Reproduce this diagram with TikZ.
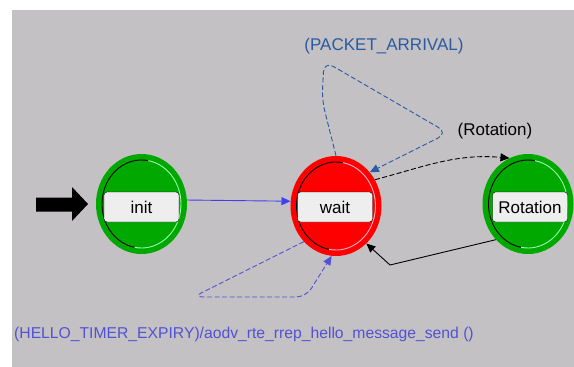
\documentclass[tikz,border=0pt]{standalone}
\usepackage{fontspec}
\usetikzlibrary{shapes.geometric,arrows.meta}
\newfontfamily\uifont{Liberation Sans}
\definecolor{bggray}{RGB}{195,193,196}
\definecolor{stgreen}{RGB}{0,168,0}
\definecolor{stred}{RGB}{255,0,0}
\definecolor{ltgreen}{RGB}{150,255,170}
\definecolor{ltred}{RGB}{255,175,200}
\definecolor{trblue}{RGB}{64,64,240}
\definecolor{pktblue}{RGB}{42,90,160}
\definecolor{hlblue}{RGB}{82,82,210}
\definecolor{boxfill}{RGB}{238,238,238}
\tikzset{
  statenode/.style={ellipse, minimum width=91pt, minimum height=100pt, inner sep=0pt},
  lblbox/.style={draw=black, fill=boxfill, rounded corners=3pt, minimum width=75pt, minimum height=30pt, inner sep=0pt, font=\uifont\fontsize{17}{20}\selectfont},
  labeltxt/.style={inner sep=0pt, font=\uifont\fontsize{17}{20}\selectfont},
  tip/.style={-{Triangle[length=9pt,width=8pt]}},
  dashline/.style={dash pattern=on 5pt off 2.5pt, line width=0.9pt},
}
\newcommand\stateRing[2]{%
  \draw[black, line width=0.9pt] (#1.center) ++(100:39.5 and 44) arc[start angle=100, end angle=280, x radius=39.5, y radius=44];
  \draw[#2, line width=0.9pt] (#1.center) ++(280:39.5 and 44) arc[start angle=280, end angle=460, x radius=39.5, y radius=44];
}
\begin{document}
\begin{tikzpicture}[x=1pt,y=-1pt]
\useasboundingbox (0,0) rectangle (574,367);
\fill[white] (0,0) rectangle (574,367);
\fill[bggray] (12,10) rectangle (574,367);

% states
\node[statenode, fill=stgreen] (init) at (141.5,204) {};
\node[statenode, fill=stred] (wait) at (336,206) {};
\node[statenode, fill=stgreen] (rot) at (528,204) {};
\stateRing{init}{ltgreen}
\stateRing{wait}{ltred}
\stateRing{rot}{ltgreen}

% entry arrow
\fill[black] (36,197.5) -- (72,197.5) -- (72,187) -- (88,204) -- (72,221) -- (72,211.5) -- (36,211.5) -- cycle;

% init -> wait
\draw[trblue, line width=0.9pt, tip] (init.5) -- (wait.174);

% wait -> Rotation
\draw[black, dashline, tip] (wait.34) to[out=15, in=175] (rot.112);

% Rotation -> wait
\coordinate (bendA) at (390,265);
\draw[black, line width=0.9pt, tip] (rot.228) -- (bendA) -- (wait.309);

% PACKET_ARRIVAL loop
\coordinate (pkM) at (322,100);
\coordinate (pkA) at (324,61);
\coordinate (pkB) at (448,133);
\draw[pktblue, dashline, tip, rounded corners=11pt] (wait.90) -- (pkM) -- (pkA) -- (pkB) -- (wait.45);

% HELLO loop
\coordinate (hlA) at (193,297);
\coordinate (hlB) at (306,297);
\draw[hlblue, dashline, tip, rounded corners=10pt] (wait.228) -- (hlA) -- (hlB) -- (wait.265);

% label boxes
\node[lblbox] (initlbl) at (141.5,207) {init};
\node[lblbox] (waitlbl) at (335,207) {wait};
\node[lblbox] (rotlbl) at (530,207) {Rotation};

% transition labels
\node[labeltxt, text=pktblue] (pktlbl) at (384,46) {(PACKET\_ARRIVAL)};
\node[labeltxt, text=black] (rotlabel) at (495,131) {(Rotation)};
\node[labeltxt, text=hlblue, anchor=west, font=\uifont\fontsize{15.7}{19}\selectfont] (hllbl) at (14,334) {(HELLO\_TIMER\_EXPIRY)/aodv\_rte\_rrep\_hello\_message\_send ()};
\end{tikzpicture}
\end{document}
